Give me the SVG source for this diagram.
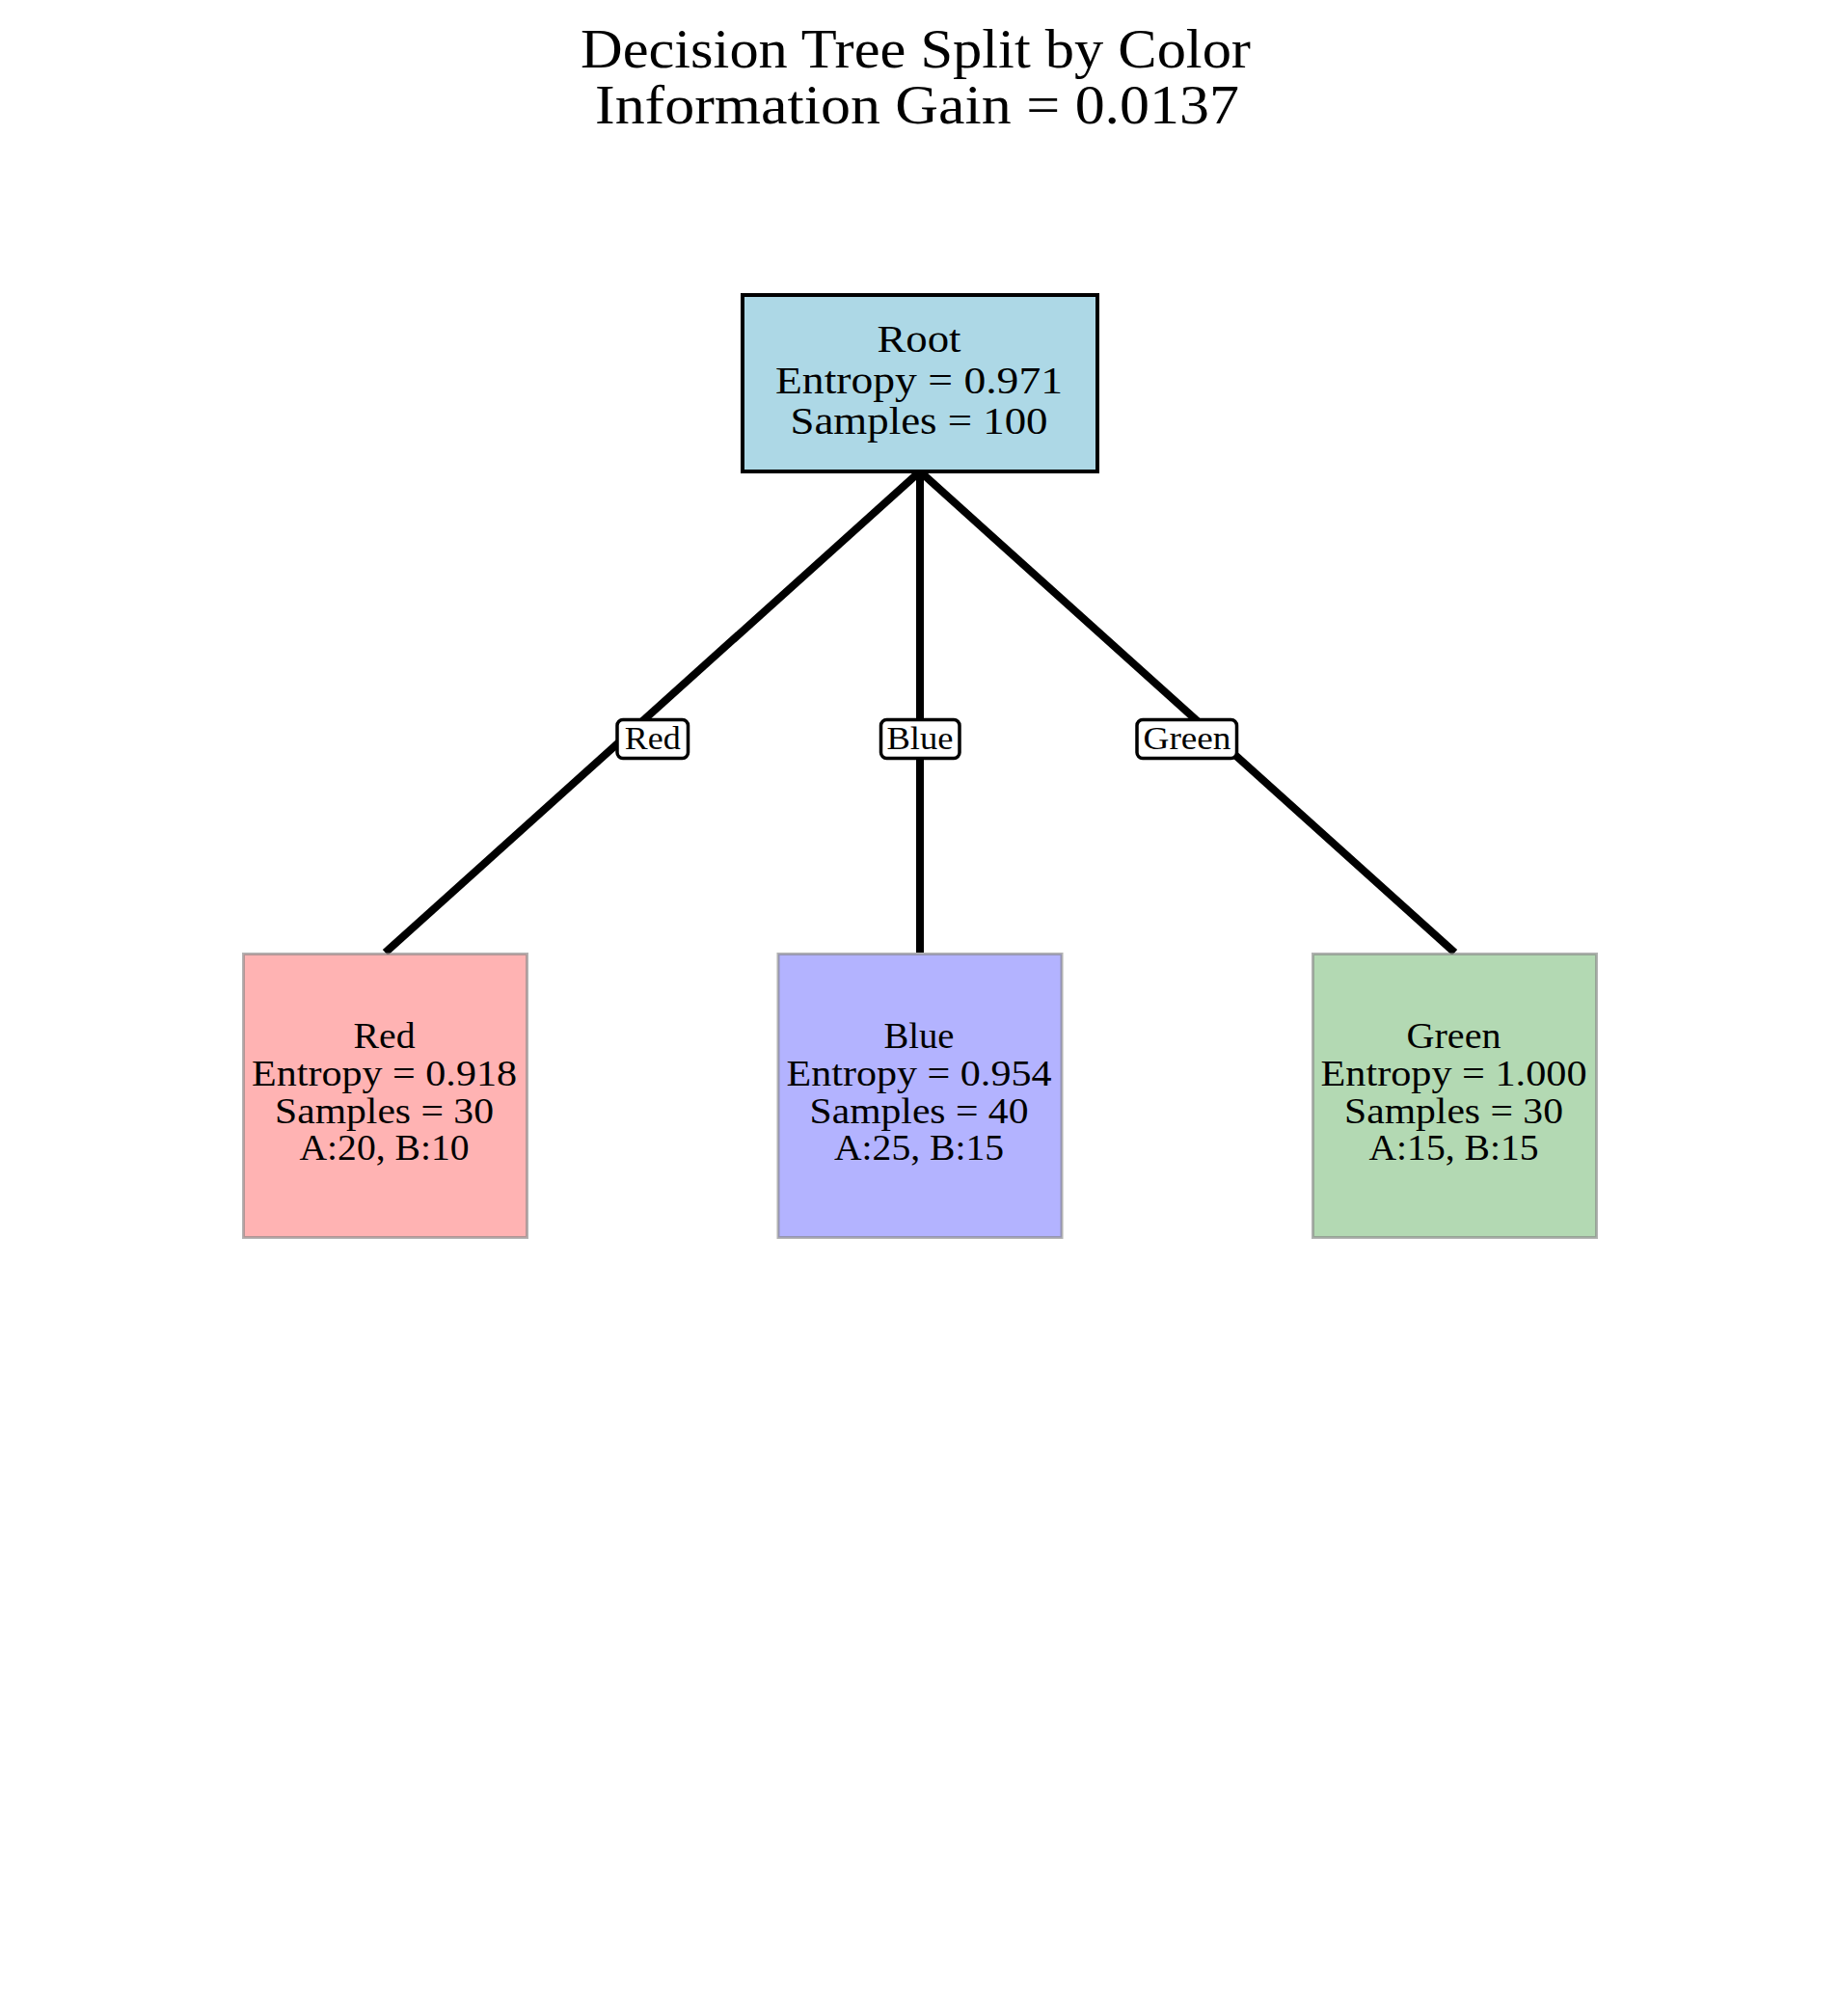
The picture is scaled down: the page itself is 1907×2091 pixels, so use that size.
<svg xmlns="http://www.w3.org/2000/svg" width="1907" height="2091" viewBox="0 0 1907 2091">
<style>
text{font-family:"Liberation Serif","Times New Roman",serif;fill:#000;text-anchor:middle}
.title{font-size:57px}
.root{font-size:40px}
.child{font-size:37px}
.lbl{font-size:34px}
.edge{stroke:#000;stroke-width:8;fill:none;stroke-linecap:butt}
.lblbox{fill:#fff;stroke:#000;stroke-width:3.5}
.leaf{stroke:#808080;stroke-opacity:0.6;stroke-width:3}
</style>
<rect x="0" y="0" width="1907" height="2091" fill="#fff"/>
<g id="title">
<text class="title" x="949.5" y="70" textLength="695" lengthAdjust="spacingAndGlyphs">Decision Tree Split by Color</text>
<text class="title" x="951" y="128" textLength="668" lengthAdjust="spacingAndGlyphs">Information Gain = 0.0137</text>
</g>
<g id="connectors">
<line class="edge" x1="954" y1="489" x2="399.5" y2="988"/>
<line class="edge" x1="954" y1="489" x2="954" y2="988"/>
<line class="edge" x1="954" y1="489" x2="1508.5" y2="988"/>
</g>
<g id="node-root">
<rect x="770" y="306" width="368" height="183" fill="#add8e6" stroke="#000" stroke-width="4"/>
<text class="root" x="953" y="365" textLength="87" lengthAdjust="spacingAndGlyphs">Root</text>
<text class="root" x="953" y="408" textLength="298" lengthAdjust="spacingAndGlyphs">Entropy = 0.971</text>
<text class="root" x="953" y="450" textLength="267" lengthAdjust="spacingAndGlyphs">Samples = 100</text>
</g>
<g id="node-red">
<rect class="leaf" x="252.5" y="989.5" width="294" height="294" fill="#ffb3b3"/>
<text class="child" x="398.5" y="1087" textLength="64" lengthAdjust="spacingAndGlyphs">Red</text>
<text class="child" x="398.5" y="1126" textLength="275" lengthAdjust="spacingAndGlyphs">Entropy = 0.918</text>
<text class="child" x="398.5" y="1165" textLength="227" lengthAdjust="spacingAndGlyphs">Samples = 30</text>
<text class="child" x="398.5" y="1203" textLength="176" lengthAdjust="spacingAndGlyphs">A:20, B:10</text>
</g>
<g id="node-blue">
<rect class="leaf" x="807" y="989.5" width="294" height="294" fill="#b3b3ff"/>
<text class="child" x="953" y="1087" textLength="73" lengthAdjust="spacingAndGlyphs">Blue</text>
<text class="child" x="953" y="1126" textLength="275" lengthAdjust="spacingAndGlyphs">Entropy = 0.954</text>
<text class="child" x="953" y="1165" textLength="227" lengthAdjust="spacingAndGlyphs">Samples = 40</text>
<text class="child" x="953" y="1203" textLength="176" lengthAdjust="spacingAndGlyphs">A:25, B:15</text>
</g>
<g id="node-green">
<rect class="leaf" x="1361.5" y="989.5" width="294" height="294" fill="#b3d9b3"/>
<text class="child" x="1507.5" y="1087" textLength="98" lengthAdjust="spacingAndGlyphs">Green</text>
<text class="child" x="1507.5" y="1126" textLength="276" lengthAdjust="spacingAndGlyphs">Entropy = 1.000</text>
<text class="child" x="1507.5" y="1165" textLength="227" lengthAdjust="spacingAndGlyphs">Samples = 30</text>
<text class="child" x="1507.5" y="1203" textLength="176" lengthAdjust="spacingAndGlyphs">A:15, B:15</text>
</g>
<g id="edge-labels">
<g id="label-red">
<rect class="lblbox" x="640" y="746.5" width="73.5" height="40" rx="6"/>
<text class="lbl" x="676.7" y="776.5" textLength="58" lengthAdjust="spacingAndGlyphs">Red</text>
</g>
<g id="label-blue">
<rect class="lblbox" x="913.5" y="746.5" width="81.5" height="40" rx="6"/>
<text class="lbl" x="954" y="776.5" textLength="69" lengthAdjust="spacingAndGlyphs">Blue</text>
</g>
<g id="label-green">
<rect class="lblbox" x="1179" y="746.5" width="103.5" height="40" rx="6"/>
<text class="lbl" x="1231" y="776.5" textLength="91" lengthAdjust="spacingAndGlyphs">Green</text>
</g>
</g>
</svg>
